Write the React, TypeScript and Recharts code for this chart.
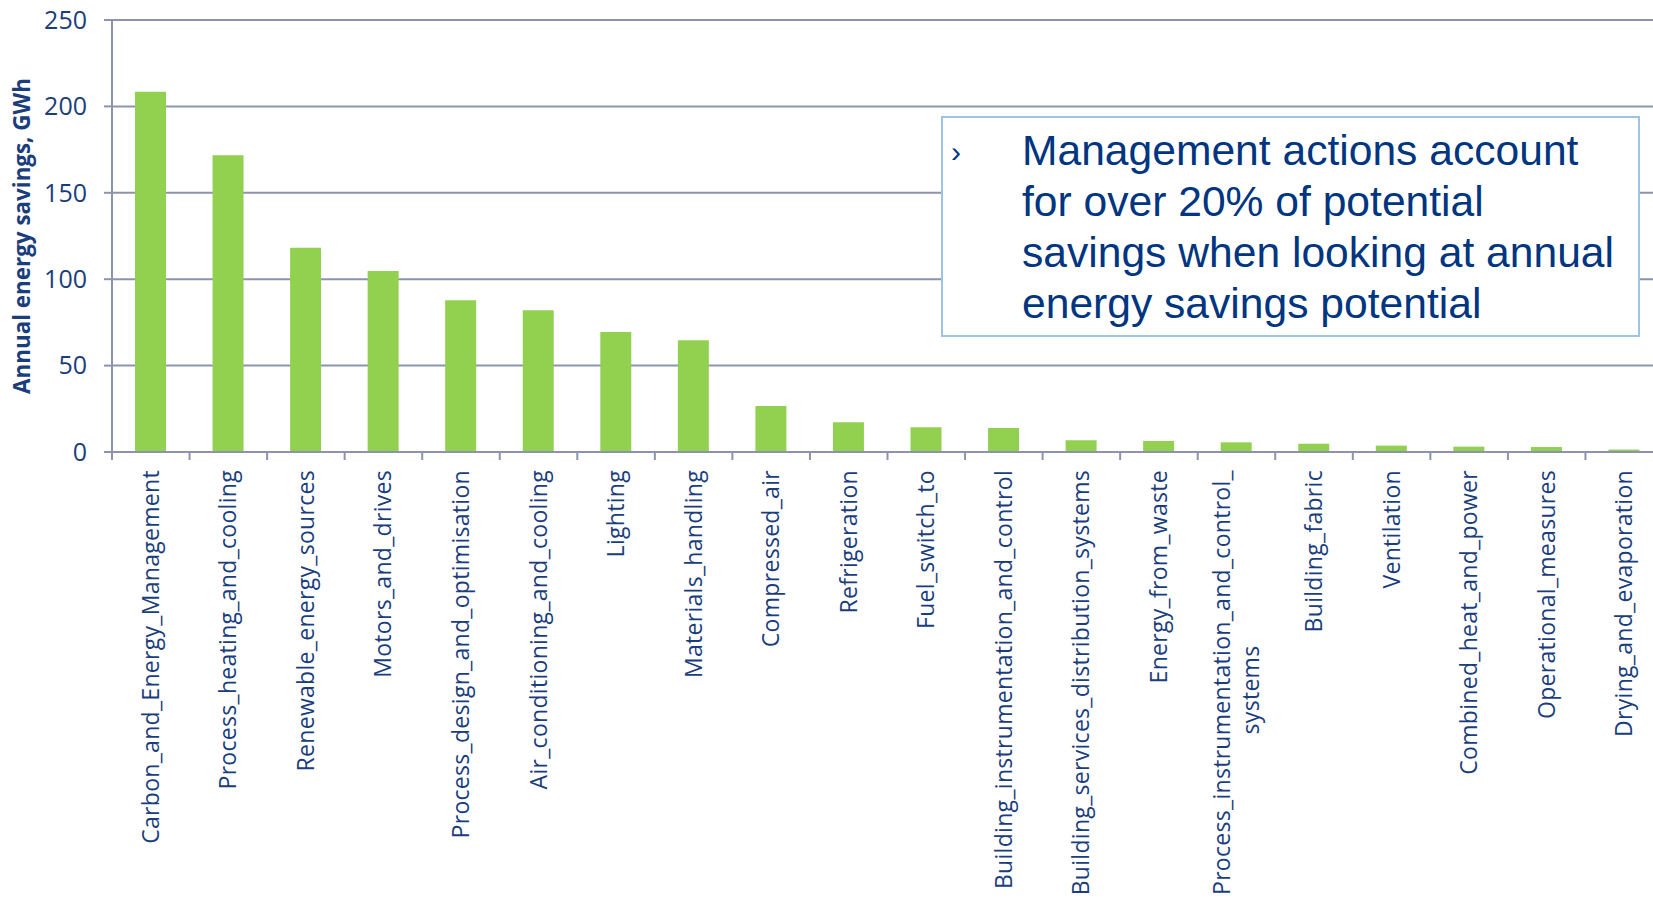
import { BarChart, Bar, XAxis, YAxis, CartesianGrid } from 'recharts'

const CATEGORIES = [
  'Carbon_and_Energy_Management',
  'Process_heating_and_cooling',
  'Renewable_energy_sources',
  'Motors_and_drives',
  'Process_design_and_optimisation',
  'Air_conditioning_and_cooling',
  'Lighting',
  'Materials_handling',
  'Compressed_air',
  'Refrigeration',
  'Fuel_switch_to',
  'Building_instrumentation_and_control',
  'Building_services_distribution_systems',
  'Energy_from_waste',
  'Process_instrumentation_and_control_ systems',
  'Building_fabric',
  'Ventilation',
  'Combined_heat_and_power',
  'Operational_measures',
  'Drying_and_evaporation',
]

const SAVINGS_GWH = [
  208.5, 171.7, 118.2, 104.7, 87.8, 82.0, 69.4, 64.6, 26.6, 17.2,
  14.3, 13.9, 6.8, 6.4, 5.6, 4.8, 3.7, 3.1, 2.9, 1.4,
]

const Y_TICKS = [0, 50, 100, 150, 200, 250]

const Y_TITLE = 'Annual energy savings, GWh'
const NOTE_LINES = [
  'Management actions account',
  'for over 20% of potential',
  'savings when looking at annual',
  'energy savings potential',
]

const data = CATEGORIES.map((name, i) => ({ name, value: SAVINGS_GWH[i] }))

const CHART_W = 1673
const CHART_H = 899
const MARGIN = { top: 20, right: 10, left: 0, bottom: 0 } as const
const Y_AXIS_W = 112
const X_AXIS_H = 447
const BAND = (CHART_W - MARGIN.left - MARGIN.right - Y_AXIS_W) / CATEGORIES.length
const TICK_SIZE = 8
const TICK_MARGIN = 2

const GRID = '#8e93ad'
const NAVY = '#1a3d7c'
const LABEL_FONT = '"Open Sans", "DejaVu Sans", sans-serif'

// category label, rotated, with the Excel-style tick mark at the left band edge
function CategoryTick(props: any) {
  const { x, y, payload } = props
  const axisY = y - TICK_SIZE - TICK_MARGIN
  const lines: string[] = String(payload.value).split(' ')
  const lineH = 29
  const top = axisY + 18
  return (
    <g>
      <line x1={x - BAND / 2} x2={x - BAND / 2} y1={axisY} y2={axisY + TICK_SIZE} stroke={GRID} strokeWidth={2} />
      <g transform={`translate(${x},${top}) rotate(-90)`}>
        {lines.map((ln, i) => (
          <text
            key={i}
            x={lines.length > 1 && i > 0 ? -220 : 0}
            y={(i - (lines.length - 1) / 2) * lineH}
            dy="0.35em"
            textAnchor={lines.length > 1 && i > 0 ? 'middle' : 'end'}
            fontSize={23}
            letterSpacing={0.3}
            fontFamily={LABEL_FONT}
            fill={NAVY}
          >
            {ln}
          </text>
        ))}
      </g>
    </g>
  )
}

function YTitle(props: any) {
  const { viewBox } = props
  const cx = viewBox.x + 22
  const cy = viewBox.y + viewBox.height / 2
  return (
    <text
      x={cx}
      y={cy}
      dy="0.35em"
      transform={`rotate(-90, ${cx}, ${cy})`}
      textAnchor="middle"
      fontSize={22.4}
      fontWeight="bold"
      fontFamily={LABEL_FONT}
      fill={NAVY}
    >
      {Y_TITLE}
    </text>
  )
}

export default function App() {
  return (
    <div
      style={{
        position: 'absolute',
        left: 0,
        top: 0,
        width: 1653,
        height: 899,
        overflow: 'hidden',
        background: '#ffffff',
      }}
    >
      <BarChart width={CHART_W} height={CHART_H} data={data} margin={MARGIN}>
        <CartesianGrid vertical={false} stroke={GRID} strokeWidth={2} />
        <XAxis
          dataKey="name"
          interval={0}
          height={X_AXIS_H}
          tickLine={false}
          tickSize={TICK_SIZE}
          tickMargin={TICK_MARGIN}
          axisLine={{ stroke: GRID, strokeWidth: 2 }}
          tick={<CategoryTick />}
        />
        <YAxis
          width={Y_AXIS_W}
          domain={[0, 250]}
          ticks={Y_TICKS}
          interval={0}
          tickSize={8}
          tickMargin={17}
          axisLine={{ stroke: GRID, strokeWidth: 2 }}
          tickLine={{ stroke: GRID, strokeWidth: 2 }}
          tick={{ fontSize: 25, fontFamily: LABEL_FONT, fill: NAVY }}
          label={<YTitle />}
        />
        <Bar dataKey="value" fill="#92d050" barSize={31} isAnimationActive={false} />
      </BarChart>
      <div
        style={{
          position: 'absolute',
          left: 941,
          top: 116,
          width: 699,
          height: 221,
          boxSizing: 'border-box',
          border: '2px solid #9dc3e6',
          background: '#ffffff',
          fontFamily: '"Liberation Sans", Arial, sans-serif',
          color: '#00357f',
        }}
      >
        <div style={{ position: 'absolute', left: 8, top: 8, fontSize: 30, lineHeight: '51px' }}>›</div>
        <div style={{ position: 'absolute', left: 79, top: 7, fontSize: 42.6, lineHeight: '51px', whiteSpace: 'nowrap' }}>
          {NOTE_LINES.map((ln) => (
            <div key={ln}>{ln}</div>
          ))}
        </div>
      </div>
    </div>
  )
}
